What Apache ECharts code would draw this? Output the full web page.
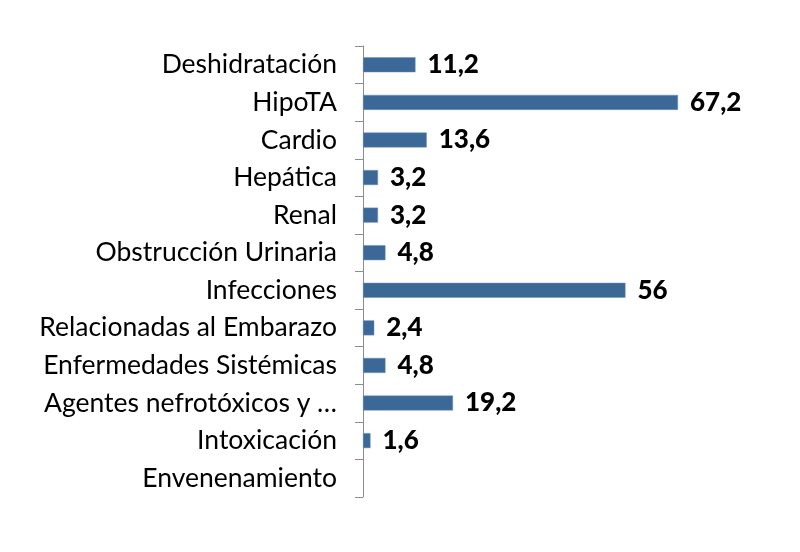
<!DOCTYPE html>
<html><head><meta charset="utf-8">
<script src="https://cdn.jsdelivr.net/npm/echarts@6/dist/echarts.min.js"></script>
<style>html,body{margin:0;padding:0;background:#fff}#c{width:800px;height:552px}</style>
</head><body><div id="c"></div>
<script>
const categories = ["Deshidratación","HipoTA","Cardio","Hepática","Renal","Obstrucción Urinaria","Infecciones","Relacionadas al Embarazo","Enfermedades Sistémicas","Agentes nefrotóxicos y …","Intoxicación","Envenenamiento"];
const values = [11.2,67.2,13.6,3.2,3.2,4.8,56,2.4,4.8,19.2,1.6,null];
const FONT = "Lato";
const chart = echarts.init(document.getElementById('c'));
chart.setOption({
  animation:false,
  grid:{left:363,right:62,top:46,bottom:55,containLabel:false},
  xAxis:{type:'value',min:0,max:80,show:false},
  yAxis:{type:'category',data:categories,inverse:true,
    axisLine:{show:true,lineStyle:{color:'#8c8c8c',width:1}},
    axisTick:{show:true,length:8,lineStyle:{color:'#8c8c8c',width:1}},
    axisLabel:{margin:26,color:'#000',fontSize:26.5,fontFamily:FONT}},
  series:[{type:'bar',data:values,barWidth:15,
    itemStyle:{color:'#3c6898',borderColor:'#6f93b8',borderWidth:0.5},
    label:{show:true,position:'right',distance:12,color:'#000',fontWeight:900,fontSize:26,fontFamily:FONT,
      formatter:p=>(p.value==null||p.value===0)?'':String(p.value).replace('.',',')}}]
});
</script></body></html>
